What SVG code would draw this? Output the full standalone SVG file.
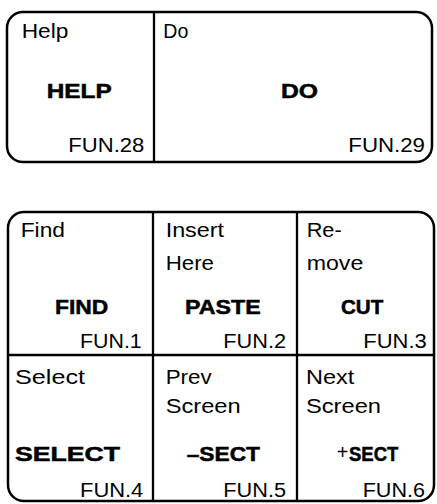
<svg xmlns="http://www.w3.org/2000/svg" width="437" height="504" viewBox="0 0 437 504">
<style>
.frame{fill:none;stroke:#000;stroke-width:2.5}
.div{stroke:#000;stroke-width:2.3}
.t{font-family:"Liberation Sans",Arial,sans-serif;font-size:20px;fill:#000}
.b{font-family:"Liberation Sans",Arial,sans-serif;font-size:20px;font-weight:bold;fill:#000;stroke:#000;stroke-width:0.5}
</style>
<rect width="437" height="504" fill="#fff"/>
<g id="top-panel">
<rect class="frame" x="7" y="12" width="425" height="150" rx="16"/>
<line class="div" x1="154" y1="12" x2="154" y2="162"/>
</g>
<g id="key-help">
<text class="t" x="21.7" y="37.5" textLength="46.7" lengthAdjust="spacingAndGlyphs">Help</text>
<text class="b" x="46.7" y="98" textLength="65" lengthAdjust="spacingAndGlyphs">HELP</text>
<text class="t" x="68.3" y="151.5" textLength="76" lengthAdjust="spacingAndGlyphs">FUN.28</text>
</g>
<g id="key-do">
<text class="t" x="163.3" y="37.5" textLength="25" lengthAdjust="spacingAndGlyphs">Do</text>
<text class="b" x="281" y="98" textLength="37" lengthAdjust="spacingAndGlyphs">DO</text>
<text class="t" x="348.3" y="151.5" textLength="76.7" lengthAdjust="spacingAndGlyphs">FUN.29</text>
</g>
<g id="bottom-panel">
<rect class="frame" x="8" y="212" width="426" height="289" rx="16"/>
<line class="div" x1="153" y1="212" x2="153" y2="501"/>
<line class="div" x1="297" y1="212" x2="297" y2="501"/>
<line class="div" x1="8" y1="355" x2="434" y2="355"/>
</g>
<g id="key-find">
<text class="t" x="20.7" y="237" textLength="44.3" lengthAdjust="spacingAndGlyphs">Find</text>
<text class="b" x="55" y="314" textLength="53.3" lengthAdjust="spacingAndGlyphs">FIND</text>
<text class="t" x="80" y="348" textLength="61.7" lengthAdjust="spacingAndGlyphs">FUN.1</text>
</g>
<g id="key-paste">
<text class="t" x="165.7" y="237" textLength="58.3" lengthAdjust="spacingAndGlyphs">Insert</text>
<text class="t" x="165.7" y="270" textLength="48.3" lengthAdjust="spacingAndGlyphs">Here</text>
<text class="b" x="185" y="314" textLength="75.7" lengthAdjust="spacingAndGlyphs">PASTE</text>
<text class="t" x="223.3" y="348" textLength="62.7" lengthAdjust="spacingAndGlyphs">FUN.2</text>
</g>
<g id="key-cut">
<text class="t" x="306.7" y="237" textLength="35" lengthAdjust="spacingAndGlyphs">Re-</text>
<text class="t" x="306.7" y="270" textLength="56.6" lengthAdjust="spacingAndGlyphs">move</text>
<text class="b" x="341" y="314" textLength="42.3" lengthAdjust="spacingAndGlyphs">CUT</text>
<text class="t" x="363.3" y="348" textLength="63.4" lengthAdjust="spacingAndGlyphs">FUN.3</text>
</g>
<g id="key-select">
<text class="t" x="15" y="384" textLength="70" lengthAdjust="spacingAndGlyphs">Select</text>
<text class="b" x="15" y="461" textLength="105" lengthAdjust="spacingAndGlyphs">SELECT</text>
<text class="t" x="80" y="496.5" textLength="63.3" lengthAdjust="spacingAndGlyphs">FUN.4</text>
</g>
<g id="key-prev-sect">
<text class="t" x="165.7" y="384" textLength="46" lengthAdjust="spacingAndGlyphs">Prev</text>
<text class="t" x="165.7" y="412.5" textLength="75" lengthAdjust="spacingAndGlyphs">Screen</text>
<text class="b" x="186.7" y="461" textLength="73.3" lengthAdjust="spacingAndGlyphs">–SECT</text>
<text class="t" x="223.3" y="496.5" textLength="62.7" lengthAdjust="spacingAndGlyphs">FUN.5</text>
</g>
<g id="key-next-sect">
<text class="t" x="336.7" y="459" textLength="11.6" lengthAdjust="spacingAndGlyphs">+</text>
<text class="t" x="306" y="384" textLength="48.3" lengthAdjust="spacingAndGlyphs">Next</text>
<text class="t" x="306" y="412.5" textLength="75" lengthAdjust="spacingAndGlyphs">Screen</text>
<text class="b" x="349" y="461" textLength="49.3" lengthAdjust="spacingAndGlyphs">SECT</text>
<text class="t" x="362.7" y="496.5" textLength="62.3" lengthAdjust="spacingAndGlyphs">FUN.6</text>
</g>
</svg>
